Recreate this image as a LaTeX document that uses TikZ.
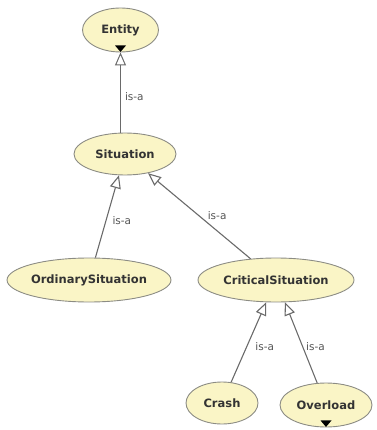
\documentclass[tikz,border=0pt]{standalone}
\usepackage{fontspec}
\setmainfont{DejaVu Sans}
\usetikzlibrary{shapes.geometric,arrows.meta}
\definecolor{conceptfill}{HTML}{FAF5C6}
\definecolor{conceptline}{HTML}{8C8C84}
\definecolor{edgegray}{HTML}{6A6A6A}
\definecolor{textdark}{HTML}{333333}
\definecolor{labelgray}{HTML}{555555}
\tikzset{
  concept/.style={ellipse, draw=conceptline, line width=0.9pt, fill=conceptfill,
    inner sep=0pt, text=textdark, font=\bfseries\fontsize{11.5}{13}\selectfont},
  isa/.style={draw=edgegray, line width=1.1pt,
    {Triangle[open, length=13pt, width=11pt, fill=white]}-},
  isalabel/.style={right, text=labelgray, font=\fontsize{10.5}{12}\selectfont, inner sep=0pt},
  expander/.style={fill=black}
}
\begin{document}
\begin{tikzpicture}[x=1pt, y=-1pt]
  \useasboundingbox (0,0) rectangle (376,430);

  % concepts
  \node[concept, minimum width=76pt, minimum height=44pt] (Entity) at (120.5,30) {Entity};
  \node[concept, minimum width=102pt, minimum height=42pt] (Situation) at (125,154) {Situation};
  \node[concept, minimum width=158pt, minimum height=44pt] (Ordinary) at (89,280) {OrdinarySituation};
  \node[concept, minimum width=156pt, minimum height=44pt] (Critical) at (276,280) {CriticalSituation};
  \node[concept, minimum width=72pt, minimum height=42pt] (Crash) at (222,403) {Crash};
  \node[concept, minimum width=92pt, minimum height=44pt] (Overload) at (326,405) {Overload};

  % expand markers
  \fill[expander] ([xshift=-5.5pt, yshift=7pt]Entity.south) -- ([xshift=5.5pt, yshift=7pt]Entity.south)
    -- ([yshift=0.5pt]Entity.south) -- cycle;
  \fill[expander] ([xshift=-5.5pt, yshift=7pt]Overload.south) -- ([xshift=5.5pt, yshift=7pt]Overload.south)
    -- ([yshift=0.5pt]Overload.south) -- cycle;

  % is-a links
  \coordinate (SituationTop) at (Entity.south |- Situation.north);
  \draw[isa, line width=1pt] (Entity.south) -- node[isalabel, pos=0.55, xshift=4pt] {is-a} (SituationTop);
  \draw[isa] (Situation) -- node[isalabel, pos=0.55, xshift=6pt] {is-a} (Ordinary);
  \draw[isa] (Situation) -- node[isalabel, pos=0.5, xshift=8pt] {is-a} (Critical);
  \draw[isa] (Critical) -- node[isalabel, pos=0.55, xshift=8pt] {is-a} (Crash);
  \draw[isa] (Critical) -- node[isalabel, pos=0.55, xshift=3pt] {is-a} (Overload);
\end{tikzpicture}
\end{document}
